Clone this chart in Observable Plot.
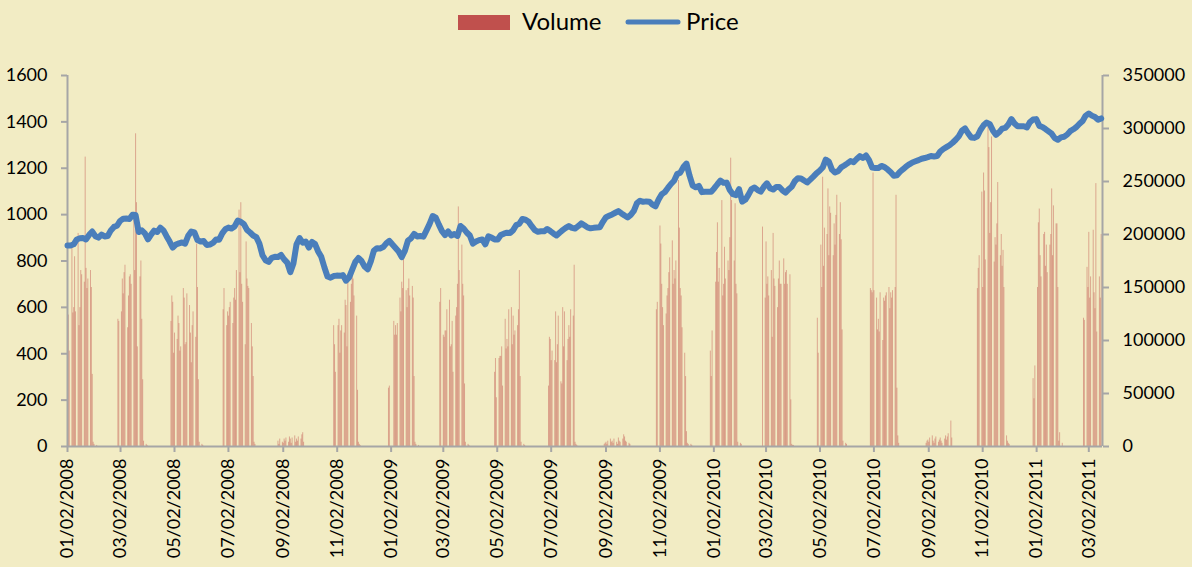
<!DOCTYPE html>
<html><head><meta charset="utf-8">
<script src="https://cdn.jsdelivr.net/npm/d3@7"></script>
<script src="https://cdn.jsdelivr.net/npm/@observablehq/plot@0.6"></script>
<style>
body{margin:0;background:#F2ECC4;font-family:Lato,sans-serif;}
svg{display:block}
</style></head><body>
<svg id="legend" width="1192" height="44"></svg>
<div id="chart"></div>
<script>
// ---- data ----
const seriesNames = ["Volume", "Price"];
const priceStart = "2008-01-02"; // readings every half week (3.5 days)
const priceValues = [867,867,872,893,898,899,893,913,927,907,
901,914,906,908,932,947,952,973,982,983,
981,999,998,925,932,919,893,914,931,925,
944,932,907,884,858,871,876,880,875,909,
927,923,890,884,886,869,871,878,893,892,
919,937,944,940,949,974,969,959,934,923,
910,903,875,825,803,796,814,818,817,826,
807,793,752,789,872,899,879,884,858,882,
873,841,818,773,733,728,735,737,736,739,
715,729,763,796,813,800,776,764,798,845,
855,854,860,876,887,871,856,841,817,844,
888,898,917,906,908,905,932,960,994,987,
957,929,912,927,910,916,908,951,940,923,
910,875,884,890,893,872,906,901,893,893,
912,918,922,921,933,955,961,981,978,969,
950,933,926,928,928,938,929,919,910,922,
933,943,951,943,940,950,962,954,945,941,
943,944,945,969,989,995,1001,1008,1015,1005,
996,988,999,1016,1050,1060,1055,1057,1056,1043,
1036,1065,1088,1097,1115,1132,1146,1175,1181,1205,
1220,1168,1125,1118,1124,1097,1099,1099,1099,1114,
1131,1147,1137,1138,1106,1088,1084,1110,1056,1064,
1085,1110,1117,1106,1099,1120,1135,1114,1108,1119,
1119,1105,1095,1109,1120,1144,1157,1156,1147,1139,
1151,1164,1178,1189,1203,1237,1229,1194,1182,1187,
1204,1212,1221,1231,1226,1240,1252,1244,1255,1235,
1203,1201,1201,1210,1205,1195,1183,1168,1170,1185,
1196,1208,1217,1225,1230,1235,1241,1244,1248,1253,
1251,1253,1272,1283,1291,1299,1310,1323,1338,1362,
1372,1351,1333,1331,1338,1365,1385,1397,1390,1363,
1344,1355,1371,1374,1389,1412,1393,1381,1381,1381,
1376,1399,1410,1412,1383,1378,1369,1359,1349,1330,
1323,1333,1336,1345,1360,1368,1378,1392,1404,1427,
1436,1427,1421,1409,1415];

// volume: clusters of consecutive trading days (start date, daily values)
const volumeStarts = ["2008-01-02","2008-02-28","2008-04-28","2008-06-26","2008-08-27","2008-10-29","2008-12-30","2009-02-26","2009-04-29","2009-06-29","2009-08-31","2009-10-29","2009-12-29","2010-02-26","2010-04-29","2010-06-28","2010-08-30","2010-10-27","2010-12-29","2011-02-24"];
const volumeValues = [
[136000,124000,90000,188000,126000,131000,179000,127000,201000,114000,131000,166000,162000,155000,273000,168000,149000,158000,166000,150000,68000,4000,2000,1000],
[120000,118000,127000,158000,144000,164000,171000,112000,142000,160000,162000,153000,221000,166000,295000,230000,94000,160000,175000,120000,63000,5000,2000,1000],
[118000,142000,136000,88000,107000,101000,123000,116000,90000,94000,149000,140000,96000,98000,144000,133000,107000,79000,114000,127000,103000,191000,150000,63000,4000,2000,1000],
[129000,149000,114000,127000,123000,131000,136000,116000,140000,149000,138000,166000,223000,164000,230000,153000,136000,96000,193000,158000,151000,149000,116000,94000,66000,4000,2000],
[5000,2000,7000,4000,3000,7000,5000,8000,4000,9000,7000,3000,8000,10000,4000,7000,5000,9000,7000,11000,13000,4000],
[114000,96000,70000,114000,120000,88000,109000,114000,107000,138000,133000,94000,160000,136000,153000,164000,158000,142000,123000,53000,4000,2000,1000],
[55000,57000,0,0,118000,105000,114000,105000,116000,140000,127000,155000,149000,177000,147000,131000,149000,158000,142000,151000,140000,66000,4000,2000,1000],
[136000,149000,105000,103000,109000,109000,129000,138000,94000,96000,118000,70000,123000,131000,153000,226000,166000,190000,153000,142000,59000,4000,2000,1000],
[70000,83000,46000,83000,85000,85000,94000,57000,120000,92000,101000,94000,129000,131000,96000,123000,105000,109000,114000,129000,166000,66000,4000,2000,1000],
[57000,103000,101000,81000,90000,81000,127000,79000,96000,123000,61000,59000,131000,94000,127000,81000,101000,114000,103000,129000,123000,171000,4000,2000,1000],
[2000,3000,4000,2000,5000,7000,4000,5000,3000,7000,4000,2000,8000,5000,4000,7000,11000,9000,5000,4000,3000,2000],
[129000,136000,208000,191000,153000,131000,114000,125000,142000,149000,164000,178000,194000,153000,166000,158000,175000,251000,206000,149000,142000,112000,88000,66000,14000,3000,2000,2000,1000],
[90000,66000,109000,0,155000,183000,211000,155000,168000,232000,142000,153000,188000,158000,175000,166000,197000,272000,232000,175000,229000,153000,144000,4000,3000,2000],
[207000,140000,193000,153000,160000,142000,166000,103000,201000,158000,151000,131000,158000,175000,153000,153000,177000,153000,164000,166000,153000,162000,44000,2000,1000,1000],
[121000,88000,190000,150000,254000,170000,206000,200000,243000,180000,226000,220000,180000,210000,190000,218000,237000,200000,230000,195000,110000,5000,3000,2000],
[149000,147000,145000,258000,147000,140000,110000,120000,108000,145000,100000,140000,137000,142000,145000,150000,130000,145000,140000,147000,150000,237000,55000,10000,3000],
[3000,5000,6000,4000,8000,10000,5000,3000,7000,9000,4000,6000,8000,5000,3000,7000,10000,6000,9000,12000,24000,8000],
[149000,168000,180000,240000,150000,258000,241000,176000,305000,282000,201000,230000,292000,174000,197000,190000,210000,249000,180000,200000,170000,185000,150000,10000,5000,3000,2000],
[64000,45000,76000,150000,211000,224000,180000,160000,200000,202000,170000,190000,164000,190000,200000,243000,180000,227000,210000,210000,150000,5000,13000,3000],
[121000,119000,169000,150000,202000,140000,160000,204000,145000,130000,248000,108000,160000,140000,200000]
];

const tickDates = ["2008-01-02","2008-03-02","2008-05-02","2008-07-02","2008-09-02","2008-11-02","2009-01-02","2009-03-02","2009-05-02","2009-07-02","2009-09-02","2009-11-02","2010-01-02","2010-03-02","2010-05-02","2010-07-02","2010-09-02","2010-11-02","2011-01-02","2011-03-02"];
const leftTicks = [0,200,400,600,800,1000,1200,1400,1600];
const rightTicks = [0,50000,100000,150000,200000,250000,300000,350000];
const xDomain = ["2008-01-02", "2011-03-17T12:00Z"];

// ---- build tables ----
const priceData = priceValues.map((p, i) => ({date: d3.utcHour.offset(new Date(priceStart), 84 * i), price: p}));
const volData = [];
volumeStarts.forEach((s, c) => {
  let d = new Date(s);
  volumeValues[c].forEach(v => {
    while (d.getUTCDay() === 0 || d.getUTCDay() === 6) d = d3.utcDay.offset(d, 1);
    volData.push({date: d, volume: v});
    d = d3.utcDay.offset(d, 1);
  });
});
const k = leftTicks[leftTicks.length - 1] / rightTicks[rightTicks.length - 1];

const axisColor = "#A6A6A6";
const chart = Plot.plot({
  width: 1192, height: 523,
  marginTop: 31, marginBottom: 121, marginLeft: 67, marginRight: 90,
  style: {background: "#F2ECC4", fontFamily: "Lato, sans-serif", fontSize: "18px", color: "#000", overflow: "visible"},
  x: {type: "utc", domain: xDomain.map(s => new Date(s)), axis: null},
  y: {domain: [0, 1600], axis: null},
  marks: [
    Plot.ruleX(volData, {x: "date", y1: 0, y2: d => d.volume * k, stroke: "#C0504D", strokeWidth: 0.45}),
    Plot.ruleY([0], {stroke: axisColor, strokeWidth: 2}),
    Plot.ruleX(xDomain.map(s => new Date(s)), {stroke: axisColor, strokeWidth: 2}),
    Plot.axisY(leftTicks, {anchor: "left", tickSize: 6, tickPadding: 14, fontSize: 18, stroke: axisColor, strokeWidth: 2, fill: "#000", label: null, tickFormat: d => String(d)}),
    Plot.axisY(rightTicks.map(v => v * k), {anchor: "right", tickSize: 6, tickPadding: 14, fontSize: 18, stroke: axisColor, strokeWidth: 2, fill: "#000", label: null, tickFormat: d => String(Math.round(d / k))}),
    Plot.axisX(tickDates.map(s => new Date(s)), {tickFormat: d3.utcFormat("%m/%d/%Y"), tickRotate: -90, tickSize: 6, tickPadding: 6, fontSize: 18, stroke: axisColor, strokeWidth: 2, fill: "#000", label: null}),
    Plot.line(priceData, {x: "date", y: "price", stroke: "#4A7EBB", strokeWidth: 6, strokeLinejoin: "round", strokeLinecap: "round"})
  ]
});
document.getElementById("chart").appendChild(chart);

// ---- legend ----
const lg = d3.select("#legend");
lg.append("rect").attr("x", 458).attr("y", 15).attr("width", 52).attr("height", 15).attr("fill", "#C0504D");
lg.append("text").attr("x", 522).attr("y", 30).attr("font-family", "Lato, sans-serif").attr("font-size", 24).text(seriesNames[0]);
lg.append("line").attr("x1", 628).attr("x2", 678).attr("y1", 22).attr("y2", 22).attr("stroke", "#4A7EBB").attr("stroke-width", 5).attr("stroke-linecap", "round");
lg.append("text").attr("x", 686).attr("y", 30).attr("font-family", "Lato, sans-serif").attr("font-size", 24).text(seriesNames[1]);
</script>
</body></html>
